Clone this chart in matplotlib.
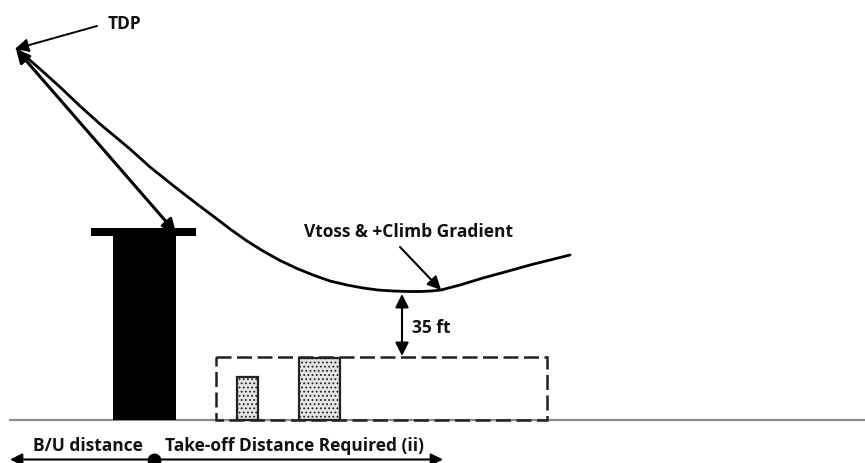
import matplotlib
matplotlib.use("Agg")
import matplotlib.pyplot as plt
from matplotlib.patches import Rectangle, FancyArrowPatch, PathPatch
from matplotlib.path import Path

# Values (pixel units of the reference)
curve_x = [17, 40, 60, 80, 100, 130, 150, 175, 197, 215, 230, 247, 263, 280, 297, 313, 330, 347, 363, 378, 393, 408, 420, 431, 441, 460, 483, 505, 530, 550, 570]
curve_y = [50, 70, 88, 107, 125, 150, 168, 188, 205, 218.5, 230, 242, 252, 261.5, 269.5, 276, 282, 286, 289, 291, 292, 292.5, 292.5, 292, 291, 286, 279, 273, 266, 261, 256]
tower_x, tower_w, tower_top = 113, 63, 233
cap_x, cap_w, cap_top, cap_h = 91, 105, 229, 8
ground_y = 420.5
box_x, box_w, box_top = 216, 331, 358
obstacles_x = [237, 299]
obstacles_w = [21, 41]
obstacles_top = [378, 359]
labels = ["TDP", "Vtoss & +Climb Gradient", "35 ft", "B/U distance", "Take-off Distance Required (ii)"]
label_x = [108, 304, 412, 33, 165]
label_y = [24, 232, 328, 446, 446]

plt.rcParams["font.family"] = ["Open Sans", "DejaVu Sans"]
plt.rcParams["hatch.linewidth"] = 0.8
fig = plt.figure(figsize=(8.65, 4.64), dpi=100)
ax = fig.add_axes([0, 0, 1, 1])
ax.set_xlim(0, 865)
ax.set_ylim(464, 0)
ax.axis("off")

# ground
ax.plot([10, 865], [ground_y, ground_y], color="#8c8c8c", lw=1.6, zorder=1)

# tower
ax.add_patch(Rectangle((tower_x, tower_top), tower_w, ground_y - tower_top, fc="black", ec="none", zorder=3))
ax.add_patch(Rectangle((cap_x, cap_top), cap_w, cap_h, fc="black", ec="none", zorder=3))

# dashed box
ax.add_patch(Rectangle((box_x, box_top), box_w, ground_y - box_top, fc="none", ec="#222222",
                       lw=1.8, ls=(0, (6, 2.2)), zorder=2))

# obstacles
for x, w, top in zip(obstacles_x, obstacles_w, obstacles_top):
    ax.add_patch(Rectangle((x, top), w, ground_y - top, fc="#e4e4e4", ec="#222222",
                           lw=1.4, hatch="....", zorder=4))
    ax.add_patch(Rectangle((x, top), w, ground_y - top, fc="none", ec="#222222", lw=1.6, zorder=5))

# flight curve
ax.add_patch(PathPatch(Path(list(zip(curve_x, curve_y))), fc="none", ec="black", lw=2.0,
                       capstyle="round", joinstyle="round", zorder=6))


def arrow(p0, p1, style="-|>", lw=1.6, ms=14, ls="-"):
    ax.add_patch(FancyArrowPatch(p0, p1, arrowstyle=style, mutation_scale=ms, lw=lw,
                                 color="black", ls=ls, shrinkA=0, shrinkB=0, zorder=7))


arrow((176, 234), (16, 50), style="<|-|>", lw=2.2, ms=20)
arrow((97, 27), (15, 50), lw=1.4, ms=20, ls=(0, (5, 0.8)))
arrow((400, 248), (441, 291), lw=1.5, ms=20)
arrow((402, 357), (402, 295), style="<|-|>", lw=1.5, ms=20)
arrow((154, 460.5), (10, 460.5), lw=1.5, ms=18)
arrow((154, 460.5), (443, 460.5), lw=1.5, ms=18)
ax.plot([154], [460.5], "o", color="black", ms=9, zorder=8, clip_on=False)

for s, x, y in zip(labels, label_x, label_y):
    ax.text(x, y, s, fontsize=12.5, fontweight="bold", color="#111111", ha="left", va="center", zorder=9)

fig.savefig("out.png", dpi=100, facecolor="white")
